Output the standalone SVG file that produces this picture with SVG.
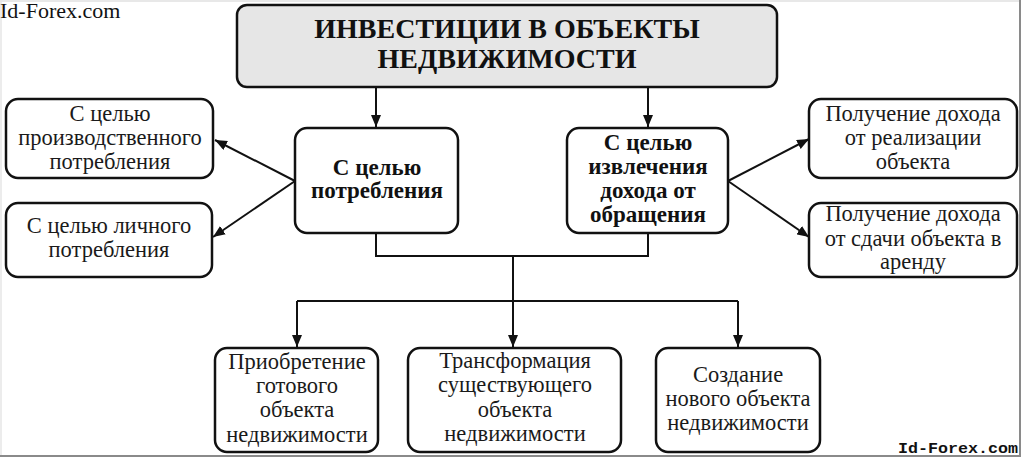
<svg xmlns="http://www.w3.org/2000/svg" width="1024" height="458" viewBox="0 0 1024 458">
<defs>
<style>
.box{fill:#fff;stroke:#111;stroke-width:2.5}
.title{fill:#e6e6e6;stroke:#111;stroke-width:2.5}
.t{font-family:"Liberation Serif","Times New Roman",serif;font-size:22.5px;fill:#1a1a1a;text-anchor:middle}
.b{font-family:"Liberation Serif","Times New Roman",serif;font-size:23px;font-weight:bold;fill:#111;text-anchor:middle}
.h{font-family:"Liberation Serif","Times New Roman",serif;font-size:28px;font-weight:bold;fill:#111;text-anchor:middle}
.c{fill:none;stroke:#111;stroke-width:2}
</style>
<marker id="ah" viewBox="0 0 12 10" refX="12" refY="5" markerWidth="12" markerHeight="10" markerUnits="userSpaceOnUse" orient="auto">
<path d="M0,0 L12,5 L0,10 Z" fill="#111"/>
</marker>
</defs>
<rect x="0" y="0" width="1024" height="458" fill="#fff"/>
<g id="frame" fill="none">
<line x1="0" y1="1" x2="1021" y2="1" stroke="#e0e0e0" stroke-width="1.5"/>
<line x1="1" y1="0" x2="1" y2="456" stroke="#e6e6e6" stroke-width="1.5"/>
<line x1="1020" y1="0" x2="1020" y2="457" stroke="#8a8a8a" stroke-width="2"/>
<line x1="0" y1="456" x2="1021" y2="456" stroke="#8a8a8a" stroke-width="2"/>
</g>
<text x="0" y="18" style="font-family:'Liberation Serif','Times New Roman',serif;font-size:22px;fill:#111">Id-Forex.com</text>
<text x="898" y="453" textLength="120" lengthAdjust="spacingAndGlyphs" style="font-family:'Liberation Mono','Courier New',monospace;font-size:14px;font-weight:bold;fill:#111">Id-Forex.com</text>

<g id="connectors">
<line class="c" x1="376" y1="87" x2="376" y2="127" marker-end="url(#ah)"/>
<line class="c" x1="648" y1="87" x2="648" y2="127" marker-end="url(#ah)"/>
<line class="c" x1="295" y1="181" x2="215" y2="140" marker-end="url(#ah)"/>
<line class="c" x1="295" y1="181" x2="213" y2="237" marker-end="url(#ah)"/>
<line class="c" x1="728" y1="181" x2="809" y2="139" marker-end="url(#ah)"/>
<line class="c" x1="728" y1="181" x2="809" y2="237" marker-end="url(#ah)"/>
<polyline class="c" points="376,233 376,256 648,256 648,233"/>
<line class="c" x1="513" y1="256" x2="513" y2="347" marker-end="url(#ah)"/>
<line class="c" x1="297" y1="301" x2="738" y2="301"/>
<line class="c" x1="297" y1="301" x2="297" y2="347" marker-end="url(#ah)"/>
<line class="c" x1="738" y1="301" x2="738" y2="347" marker-end="url(#ah)"/>
</g>

<g id="n-main">
<rect class="title" x="237" y="5" width="540" height="82" rx="10"/>
<text class="h" x="507" y="38">ИНВЕСТИЦИИ В ОБЪЕКТЫ</text>
<text class="h" x="507" y="68">НЕДВИЖИМОСТИ</text>
</g>
<g id="n-consume">
<rect class="box" x="295" y="128" width="163" height="105" rx="12"/>
<text class="b" x="377" y="175">С целью</text>
<text class="b" x="377" y="198">потребления</text>
</g>
<g id="n-income">
<rect class="box" x="567" y="128" width="161" height="105" rx="12"/>
<text class="b" x="648" y="150">С целью</text>
<text class="b" x="648" y="174">извлечения</text>
<text class="b" x="648" y="198">дохода от</text>
<text class="b" x="648" y="222">обращения</text>
</g>
<g id="n-prod">
<rect class="box" x="6" y="99" width="207" height="79" rx="12"/>
<text class="t" x="110" y="121">С целью</text>
<text class="t" x="110" y="145">производственного</text>
<text class="t" x="110" y="169">потребления</text>
</g>
<g id="n-personal">
<rect class="box" x="6" y="203" width="206" height="74" rx="12"/>
<text class="t" x="109" y="233">С целью личного</text>
<text class="t" x="109" y="257">потребления</text>
</g>
<g id="n-sale">
<rect class="box" x="809" y="99" width="208" height="79" rx="12"/>
<text class="t" x="913" y="121">Получение дохода</text>
<text class="t" x="913" y="145">от реализации</text>
<text class="t" x="913" y="169">объекта</text>
</g>
<g id="n-rent">
<rect class="box" x="809" y="203" width="208" height="74" rx="12"/>
<text class="t" x="913" y="221">Получение дохода</text>
<text class="t" x="913" y="246">от сдачи объекта в</text>
<text class="t" x="913" y="269">аренду</text>
</g>
<g id="n-acquire">
<rect class="box" x="215" y="348" width="163" height="104" rx="12"/>
<text class="t" x="297" y="369">Приобретение</text>
<text class="t" x="297" y="393">готового</text>
<text class="t" x="297" y="417">объекта</text>
<text class="t" x="297" y="442">недвижимости</text>
</g>
<g id="n-transform">
<rect class="box" x="408" y="348" width="213" height="104" rx="12"/>
<text class="t" x="515" y="368">Трансформация</text>
<text class="t" x="515" y="392">существующего</text>
<text class="t" x="515" y="417">объекта</text>
<text class="t" x="515" y="441">недвижимости</text>
</g>
<g id="n-create">
<rect class="box" x="656" y="348" width="164" height="104" rx="12"/>
<text class="t" x="738" y="382">Создание</text>
<text class="t" x="738" y="406">нового объекта</text>
<text class="t" x="738" y="430">недвижимости</text>
</g>
</svg>
